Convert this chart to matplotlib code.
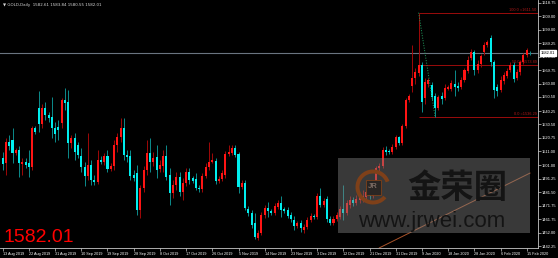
import matplotlib
matplotlib.use("Agg")
import matplotlib.pyplot as plt
from matplotlib.patches import Rectangle, Wedge
import numpy as np

# GOLD daily bars (13 Aug 2019 .. 17 Feb 2020)
opens = [1506.2, 1502.6, 1517.8, 1519.3, 1509.8, 1512.0, 1501.9, 1503.3, 1502.6, 1499.7,
         1527.9, 1542.4, 1530.9, 1542.4, 1537.4, 1535.9, 1527.9, 1528.7, 1531.6, 1548.2,
         1546.8, 1517.1, 1520.7, 1515.6, 1507.7, 1499.7, 1493.2, 1501.1, 1490.3, 1488.8,
         1504.8, 1503.3, 1507.7, 1498.2, 1500.4, 1515.6, 1521.4, 1527.9, 1508.4, 1507.7,
         1493.9, 1495.3, 1468.5, 1484.5, 1497.5, 1509.8, 1503.3, 1506.9, 1498.2, 1500.4,
         1507.7, 1493.9, 1480.9, 1486.6, 1492.4, 1481.6, 1488.1, 1496.1, 1491.7, 1491.0,
         1484.5, 1483.7, 1493.2, 1499.7, 1503.3, 1504.0, 1489.6, 1491.0, 1493.9, 1509.1,
         1509.8, 1513.5, 1509.1, 1485.2, 1488.1, 1469.3, 1466.4, 1459.1, 1448.2, 1451.9,
         1464.9, 1470.0, 1467.8, 1466.4, 1470.7, 1473.6, 1469.3, 1468.5, 1464.9, 1461.3,
         1456.9, 1459.1, 1454.0, 1456.2, 1461.3, 1464.2, 1463.5, 1478.7, 1472.2, 1476.5,
         1462.0, 1459.1, 1462.0, 1463.5, 1469.3, 1466.4, 1472.2, 1475.8, 1473.6, 1475.8,
         1476.5, 1478.0, 1481.6, 1478.7, 1485.2, 1499.0, 1500.4, 1512.0, 1511.3, 1510.6,
         1514.2, 1521.4, 1517.1, 1529.4, 1548.2, 1558.4, 1564.2, 1567.8, 1573.6, 1549.7,
         1559.8, 1559.1, 1551.1, 1542.4, 1551.1, 1549.7, 1556.2, 1556.2, 1559.8, 1558.4,
         1557.7, 1562.7, 1569.2, 1578.7, 1583.0, 1570.0, 1574.3, 1583.0, 1588.1, 1593.2,
         1575.8, 1557.7, 1555.5, 1562.0, 1565.6, 1570.0, 1573.6, 1564.2, 1568.5, 1575.8,
         1580.9, 1582.61]
highs = [1510.6, 1520.7, 1522.9, 1527.9, 1513.5, 1514.9, 1506.2, 1506.2, 1512.0, 1529.4,
         1529.4, 1554.8, 1545.3, 1546.8, 1539.5, 1550.4, 1532.3, 1533.8, 1549.7, 1556.9,
         1555.5, 1522.9, 1524.3, 1517.8, 1513.5, 1503.3, 1524.3, 1504.8, 1493.9, 1512.0,
         1507.7, 1509.8, 1512.0, 1502.6, 1519.3, 1524.3, 1535.2, 1535.2, 1512.0, 1512.0,
         1497.5, 1501.1, 1486.6, 1500.4, 1519.3, 1520.7, 1510.6, 1515.6, 1504.8, 1512.0,
         1515.6, 1499.0, 1490.3, 1496.1, 1496.1, 1491.7, 1499.0, 1499.0, 1493.2, 1495.3,
         1486.6, 1495.3, 1502.6, 1517.8, 1509.8, 1506.2, 1493.2, 1497.5, 1511.3, 1515.6,
         1515.6, 1515.6, 1510.6, 1490.3, 1490.3, 1471.4, 1468.5, 1466.4, 1454.0, 1467.1,
         1472.2, 1474.3, 1469.3, 1473.6, 1475.8, 1478.7, 1470.7, 1470.7, 1467.1, 1464.2,
         1460.6, 1461.3, 1458.4, 1463.5, 1466.4, 1465.6, 1480.9, 1484.5, 1477.2, 1478.7,
         1464.2, 1464.2, 1467.1, 1471.4, 1486.6, 1475.8, 1478.7, 1478.0, 1479.4, 1480.1,
         1483.0, 1483.7, 1484.5, 1487.4, 1500.4, 1502.6, 1514.2, 1514.9, 1512.7, 1516.4,
         1522.9, 1522.2, 1530.9, 1549.7, 1552.6, 1588.1, 1571.4, 1611.5, 1575.8, 1564.2,
         1564.2, 1561.3, 1553.3, 1551.9, 1554.0, 1559.8, 1559.1, 1562.7, 1570.0, 1561.3,
         1564.9, 1571.4, 1580.1, 1585.2, 1584.5, 1577.2, 1581.6, 1590.3, 1591.7, 1595.4,
         1577.2, 1559.8, 1565.6, 1568.5, 1571.4, 1575.8, 1575.8, 1570.7, 1577.2, 1582.3,
         1585.9, 1583.84]
lows = [1497.5, 1493.9, 1512.0, 1502.6, 1508.4, 1492.4, 1493.9, 1499.0, 1492.4, 1497.5,
        1523.6, 1525.1, 1527.9, 1533.8, 1532.3, 1520.7, 1517.8, 1519.3, 1527.9, 1541.0,
        1506.2, 1513.5, 1504.8, 1506.2, 1496.1, 1485.9, 1490.3, 1486.6, 1486.6, 1487.4,
        1501.9, 1501.1, 1496.1, 1496.8, 1497.5, 1510.6, 1517.8, 1504.8, 1503.3, 1490.3,
        1489.6, 1464.9, 1462.7, 1481.6, 1493.9, 1496.1, 1500.4, 1491.7, 1496.1, 1496.1,
        1490.3, 1472.2, 1477.2, 1483.0, 1478.7, 1475.8, 1485.9, 1487.4, 1488.1, 1483.0,
        1481.6, 1481.6, 1491.7, 1497.5, 1502.6, 1487.4, 1488.1, 1489.6, 1491.7, 1507.7,
        1508.4, 1506.9, 1480.9, 1483.7, 1468.5, 1464.2, 1455.5, 1447.5, 1446.8, 1450.4,
        1462.7, 1463.5, 1464.9, 1464.9, 1469.3, 1463.5, 1466.4, 1462.7, 1459.8, 1454.0,
        1455.5, 1452.6, 1451.9, 1454.8, 1459.8, 1462.0, 1462.0, 1470.7, 1470.7, 1459.8,
        1457.7, 1457.7, 1460.6, 1462.0, 1461.3, 1464.9, 1470.0, 1471.4, 1472.2, 1473.6,
        1474.3, 1475.8, 1476.5, 1477.2, 1483.7, 1496.8, 1499.0, 1508.4, 1509.1, 1509.1,
        1512.7, 1515.6, 1515.6, 1527.9, 1546.8, 1554.0, 1559.8, 1565.6, 1539.5, 1545.3,
        1557.7, 1548.2, 1536.29, 1541.0, 1545.3, 1548.2, 1555.5, 1554.8, 1551.1, 1554.8,
        1556.2, 1561.3, 1567.8, 1577.2, 1566.4, 1567.8, 1572.1, 1580.9, 1586.7, 1572.9,
        1549.7, 1551.1, 1554.0, 1559.8, 1564.2, 1568.5, 1561.3, 1562.7, 1566.4, 1574.3,
        1579.4, 1580.55]
closes = [1501.9, 1517.8, 1514.9, 1509.8, 1512.0, 1502.6, 1503.3, 1501.1, 1499.7, 1527.9,
          1525.1, 1530.9, 1542.4, 1537.4, 1535.2, 1527.9, 1523.6, 1526.5, 1548.2, 1546.1,
          1517.1, 1520.7, 1510.6, 1508.4, 1499.7, 1493.2, 1501.1, 1490.3, 1488.8, 1504.8,
          1503.3, 1507.7, 1498.2, 1500.4, 1515.6, 1521.4, 1527.9, 1508.4, 1506.9, 1493.2,
          1491.7, 1468.5, 1484.5, 1497.5, 1509.8, 1503.3, 1506.2, 1497.5, 1501.1, 1507.7,
          1492.4, 1480.9, 1486.6, 1492.4, 1481.6, 1488.1, 1496.1, 1490.3, 1489.6, 1484.5,
          1483.7, 1493.2, 1499.7, 1503.3, 1504.8, 1489.6, 1491.0, 1495.3, 1509.1, 1510.6,
          1513.5, 1508.4, 1485.2, 1488.1, 1470.0, 1466.4, 1457.7, 1449.0, 1451.9, 1464.9,
          1470.0, 1467.8, 1466.4, 1471.4, 1473.6, 1468.5, 1467.8, 1464.2, 1462.0, 1456.9,
          1459.1, 1455.5, 1456.2, 1461.3, 1464.2, 1463.5, 1478.7, 1472.2, 1475.1, 1462.0,
          1459.1, 1462.0, 1464.9, 1469.3, 1466.4, 1473.6, 1475.8, 1473.6, 1476.5, 1478.0,
          1478.7, 1481.6, 1478.7, 1485.2, 1499.0, 1500.4, 1512.0, 1510.6, 1510.6, 1514.2,
          1521.4, 1517.1, 1529.4, 1548.2, 1551.1, 1564.2, 1568.5, 1573.6, 1546.8, 1561.3,
          1562.7, 1550.4, 1542.4, 1550.4, 1548.9, 1556.9, 1557.7, 1560.6, 1557.7, 1556.9,
          1562.7, 1570.0, 1577.2, 1583.0, 1570.0, 1574.3, 1580.1, 1588.1, 1590.3, 1575.8,
          1555.5, 1554.8, 1562.7, 1566.4, 1569.2, 1573.6, 1563.5, 1568.5, 1575.8, 1580.9,
          1584.5, 1582.01]

date_labels = ["13 Aug 2019", "22 Aug 2019", "31 Aug 2019", "10 Sep 2019", "19 Sep 2019",
               "28 Sep 2019", "8 Oct 2019", "17 Oct 2019", "26 Oct 2019", "5 Nov 2019",
               "14 Nov 2019", "23 Nov 2019", "3 Dec 2019", "12 Dec 2019", "21 Dec 2019",
               "31 Dec 2019", "9 Jan 2020", "18 Jan 2020", "28 Jan 2020", "6 Feb 2020",
               "15 Feb 2020"]
price_ticks = [1618.75, 1609.00, 1599.00, 1589.25, 1579.50, 1569.75, 1560.00, 1550.50,
               1540.25, 1530.50, 1520.75, 1511.00, 1501.00, 1491.25, 1481.50, 1471.75,
               1461.75, 1452.00, 1442.25]

fib_bars = [127, 132]
fib_prices = [1611.50, 1536.29]
trend_bars = [115, 161]
trend_prices = [1441.1, 1495.3]
last_price = 1582.01

UP = "#ff1414"
DOWN = "#00eeee"
UP_WICK = "#a00808"
DOWN_WICK = "#0c8c8c"
AXIS = "#c8c8c8"
SMALL = ["Liberation Sans", "DejaVu Sans"]

W, H = 558, 258
fig = plt.figure(figsize=(W / 100, H / 100), dpi=100, facecolor="black")
ax = fig.add_axes([0, 10.3 / H, 537.7 / W, 247.7 / H], facecolor="black")

o = np.array(opens)
h = np.array(highs)
l = np.array(lows)
c = np.array(closes)
x = np.arange(len(c))
up = c >= o

ax.vlines(x[up], l[up], h[up], color=UP_WICK, lw=0.7, zorder=2)
ax.vlines(x[~up], l[~up], h[~up], color=DOWN_WICK, lw=0.7, zorder=2)
body_lo = np.minimum(o, c)
body_h = np.maximum(np.abs(c - o), 0.4)
ax.bar(x[up], body_h[up], bottom=body_lo[up], width=0.62, color=UP, linewidth=0, zorder=3)
ax.bar(x[~up], body_h[~up], bottom=body_lo[~up], width=0.62, color=DOWN, linewidth=0, zorder=3)

xmin, xmax = -0.82, 163.35
ax.set_xlim(xmin, xmax)
ax.set_ylim(1441.22, 1620.71)

# bid line
ax.axhline(last_price, color="#6a7480", lw=0.8, zorder=1)

# fibonacci retracement
hi, lo = fib_prices
fib_levels = [(100.0, hi), (50.0, (hi + lo) / 2), (0.0, lo)]
for pct, lvl in fib_levels:
    ax.hlines(lvl, fib_bars[0], xmax, color="#9a0c0c", lw=0.7, zorder=1)
    ax.text(xmax - 0.4, lvl + 0.4, f"{pct:.1f} ={lvl:.2f}", ha="right", va="bottom",
            fontsize=2.8, color="#b01818", family=SMALL, zorder=4)
ax.plot(fib_bars, fib_prices, color="#22a060", lw=0.7, ls=(0, (1, 1.6)), zorder=4)

# trend line
ax.plot(trend_bars, trend_prices, color="#a8532a", lw=0.7, zorder=4)

# axes and ticks
for side in ["top", "left"]:
    ax.spines[side].set_visible(False)
for side in ["right", "bottom"]:
    ax.spines[side].set_color(AXIS)
    ax.spines[side].set_linewidth(0.6)
ax.yaxis.tick_right()
ax.set_xticks(np.arange(0, 8 * len(date_labels), 8))
ax.set_xticklabels(date_labels, ha="left", family=SMALL)
ax.set_yticks(price_ticks)
ax.set_yticklabels([f"{p:.2f}" for p in price_ticks], family=SMALL)
ax.tick_params(axis="both", colors=AXIS, labelcolor="white", length=2, width=0.5, pad=1)
ax.tick_params(axis="x", labelsize=2.7)
ax.tick_params(axis="y", labelsize=2.9)

# current price tag
ax.annotate(f"{last_price:.2f}", xy=(1.0, last_price), xycoords=("axes fraction", "data"),
            xytext=(2.2, 0), textcoords="offset points", ha="left", va="center",
            fontsize=2.9, color="black", family=SMALL, annotation_clip=False, zorder=6,
            bbox=dict(boxstyle="square,pad=0.25", fc="white", ec="white"))

# header and big price
fig.text(3 / W, 1 - 5 / H, "\u25bc GOLD,Daily  1582.61 1583.84 1580.55 1582.01",
         fontsize=2.9, color="#d8d8d8", va="center", family=["DejaVu Sans"])
fig.text(3.3 / W, 16 / H, f"{last_price:.2f}", fontsize=14, color="#ff0000",
         va="baseline", family=SMALL)

# watermark
fig.add_artist(Rectangle((338 / W, 1 - 233 / H), 192 / W, 75 / H, transform=fig.transFigure,
                         facecolor="#808080", alpha=0.45, edgecolor="none", zorder=5))
cx, cy = 3.73, (H - 187) / 100
fig.add_artist(Wedge((cx, cy), 0.175, 20, 320, width=0.04, transform=fig.dpi_scale_trans,
                     facecolor="#7e4019", edgecolor="none", zorder=6))
fig.add_artist(Rectangle((cx - 0.075, cy - 0.075), 0.15, 0.15, transform=fig.dpi_scale_trans,
                         facecolor="#2a2624", edgecolor="#7e4019", lw=0.6, zorder=6))
fig.text(cx * 100 / W, cy * 100 / H, "JR", fontsize=5.5, color="#7a6a62", ha="center",
         va="center", weight="bold", family=SMALL, zorder=7)
fig.text(457 / W, 1 - 188.5 / H, "金荣圈", fontsize=24, color="#141414", ha="center",
         va="center", weight="bold", family=["Noto Sans CJK SC", "DejaVu Sans"], zorder=7)
fig.text(358 / W, 1 - 227 / H, "www.jrwei.com", fontsize=16, color="#141414",
         ha="left", va="baseline", family=SMALL, zorder=7)

fig.savefig("out.png", dpi=100, facecolor="black")
